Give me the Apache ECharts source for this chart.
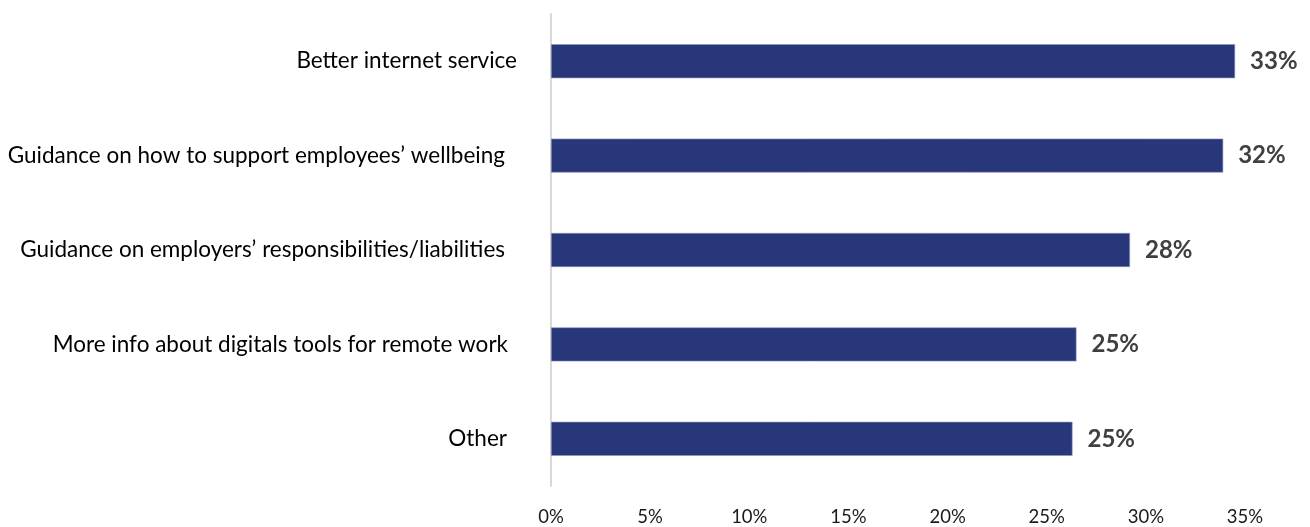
<!DOCTYPE html>
<html>
<head>
<meta charset="utf-8">
<script src="https://cdn.jsdelivr.net/npm/echarts@6/dist/echarts.min.js"></script>
<style>
  html, body { margin: 0; padding: 0; background: #fff; }
  #chart { width: 1310px; height: 527px; }
</style>
</head>
<body>
<div id="chart"></div>
<script>
// categories, top to bottom
const categories = [
  "Better internet service",
  "Guidance on how to support employees\u2019 wellbeing",
  "Guidance on employers\u2019 responsibilities/liabilities",
  "More info about digitals tools for remote work",
  "Other"
];
// bar lengths as drawn against the axis
const values = [34.5, 33.9, 29.2, 26.5, 26.3];
// printed value labels
const valueLabels = ["33%", "32%", "28%", "25%", "25%"];
const xTicks = [0, 5, 10, 15, 20, 25, 30, 35];

const chart = echarts.init(document.getElementById("chart"));

// source labels had trailing spaces, so right edges differ a little
const labelPad = [0, 12, 12, 9, 10];

const option = {
  backgroundColor: "#ffffff",
  animation: false,
  grid: { left: 551, right: 65, top: 14, bottom: 38 },
  xAxis: {
    type: "value",
    min: xTicks[0],
    max: xTicks[xTicks.length - 1],
    interval: 5,
    axisLine: { show: false },
    axisTick: { show: false },
    splitLine: { show: false },
    axisLabel: {
      formatter: "{value}%",
      color: "#1a1a1a",
      fontFamily: "Lato",
      fontSize: 18.5,
      margin: 22
    }
  },
  yAxis: {
    type: "category",
    inverse: true,
    data: categories.map((c, i) => ({
      value: c,
      textStyle: { padding: [0, labelPad[i], 0, 0] }
    })),
    axisLine: { show: true, lineStyle: { color: "#d9d9d9", width: 2 } },
    axisTick: { show: false },
    axisLabel: {
      color: "#000000",
      fontFamily: "Lato",
      fontSize: 22.5,
      margin: 34
    }
  },
  series: [
    {
      type: "bar",
      data: values,
      barWidth: 34,
      itemStyle: { color: "#283779", borderColor: "#8c95bd", borderWidth: 0.6 },
      label: {
        show: true,
        position: "right",
        distance: 15,
        formatter: (p) => valueLabels[p.dataIndex],
        color: "#404040",
        fontFamily: "Lato",
        fontWeight: "bold",
        fontSize: 24
      }
    }
  ]
};

chart.setOption(option);
</script>
</body>
</html>
